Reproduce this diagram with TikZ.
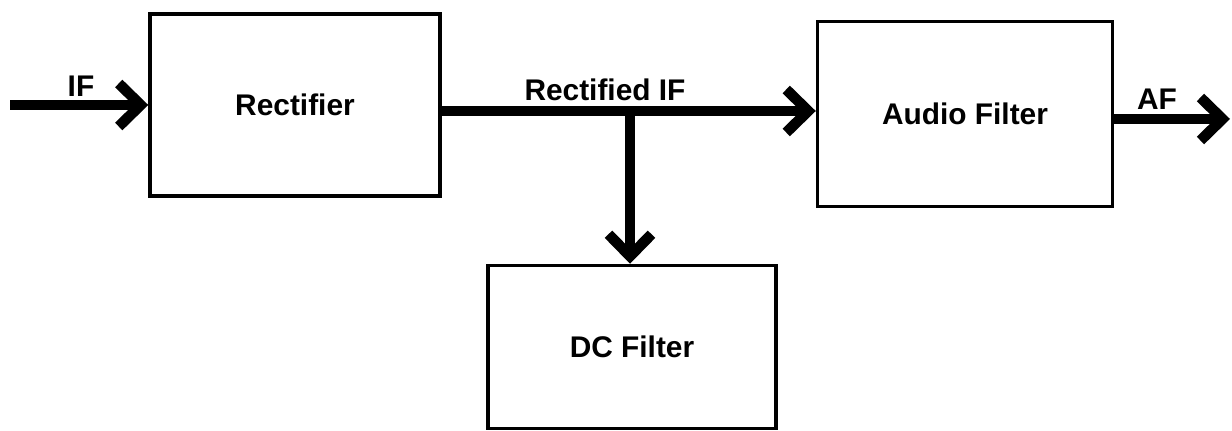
\documentclass[tikz,border=0pt]{standalone}
\usepackage{fontspec}
\setmainfont{Liberation Sans}
\usetikzlibrary{arrows.meta}
\tikzset{
  blk/.style={draw, line width=2pt, inner sep=0pt},
  sig/.style={line width=6pt, -{Straight Barb[length=4.4mm,width=8.6mm]}},
  lbl/.style={font=\fontsize{17}{19}\selectfont\bfseries}
}
\begin{document}
\begin{tikzpicture}[x=0.02cm,y=-0.02cm]
\useasboundingbox (0,0) rectangle (1232,431);
\node[blk, minimum width=5.8cm, minimum height=3.64cm, lbl] (rect) at (295,105) {Rectifier};
\node[blk, minimum width=5.9cm, minimum height=3.7cm, lbl] (audio) at (965,114) {Audio Filter};
\node[blk, minimum width=5.76cm, minimum height=3.26cm, lbl] (dc) at (632,347) {DC Filter};
\coordinate (in) at (10,105);
\coordinate (split) at (630,111);
\coordinate (out) at (1230,119);
\draw[sig] (in) -- (rect.west |- in);
\draw[sig] (rect.east |- split) -- (split -| audio.west);
\draw[sig] (split) -- (split |- dc.north);
\draw[sig] (audio.east |- out) -- (out);
\node[lbl] (iflbl) at (81,86) {IF};
\node[lbl] (riflbl) at (605,90) {Rectified IF};
\node[lbl] (aflbl) at (1157,99) {AF};
\end{tikzpicture}
\end{document}
